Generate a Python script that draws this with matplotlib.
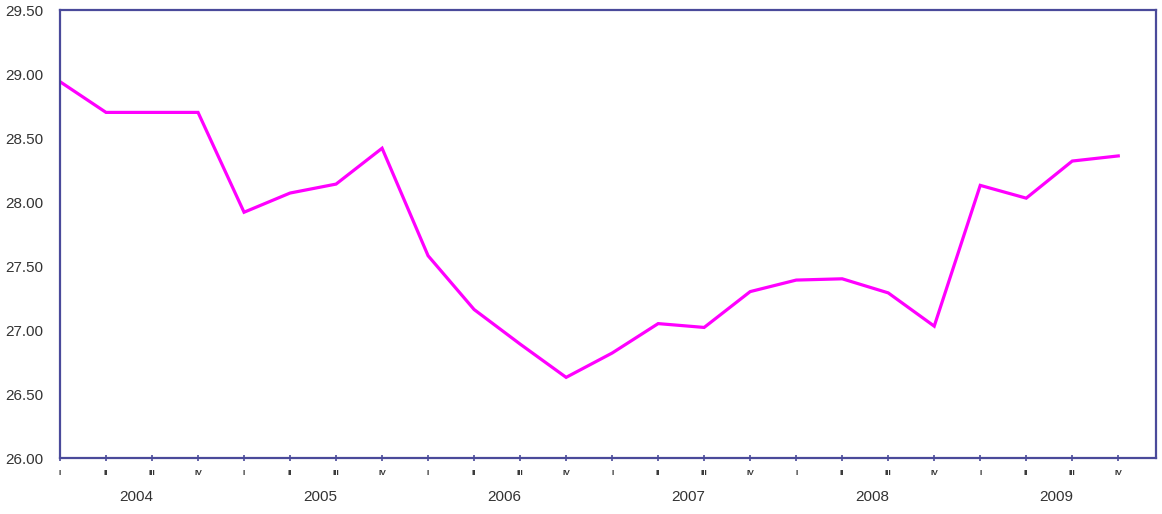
import matplotlib
matplotlib.use("Agg")
import matplotlib.pyplot as plt

# dados trimestrais 2004-2009
anos = ["2004", "2005", "2006", "2007", "2008", "2009"]
trimestres = ["I", "II", "III", "IV"]
valores = [28.94, 28.70, 28.70, 28.70,
           27.92, 28.07, 28.14, 28.42,
           27.58, 27.16, 26.89, 26.63,
           26.82, 27.05, 27.02, 27.30,
           27.39, 27.40, 27.29, 27.03,
           28.13, 28.03, 28.32, 28.36]
yticks = [26.0, 26.5, 27.0, 27.5, 28.0, 28.5, 29.0, 29.5]

plt.rcParams["font.family"] = ["Liberation Sans", "DejaVu Sans"]
eixo = "#4a4a9a"

fig = plt.figure(figsize=(11.62, 5.14), dpi=100)
ax = fig.add_axes([60/1162, 56/514, 1096/1162, 448/514])

x = list(range(len(valores)))
ax.plot(x, valores, color="#ff00ff", linewidth=2.3, solid_joinstyle="miter")

ax.set_xlim(0, 23.82)
ax.set_ylim(26.0, 29.5)

ax.set_yticks(yticks)
ax.set_yticklabels(["%.2f" % v for v in yticks], fontsize=11, color="#333333")
ax.tick_params(axis="y", length=0, pad=12)

# rotulos dos trimestres (I..IV) repetidos por ano
rotulos = [t for a in anos for t in trimestres]
ax.set_xticks(x)
ax.set_xticklabels(rotulos, fontsize=6, fontweight="bold", color="#333333")
ax.tick_params(axis="x", direction="inout", length=5, width=1.2, color=eixo, pad=6)

for i, a in enumerate(anos):
    ax.text(4*i + 1.65, -0.088, a, transform=ax.get_xaxis_transform(),
            ha="center", va="center", fontsize=11, color="#333333")

for s in ax.spines.values():
    s.set_color(eixo)
    s.set_linewidth(1.6)

plt.savefig("out.png", dpi=100)
